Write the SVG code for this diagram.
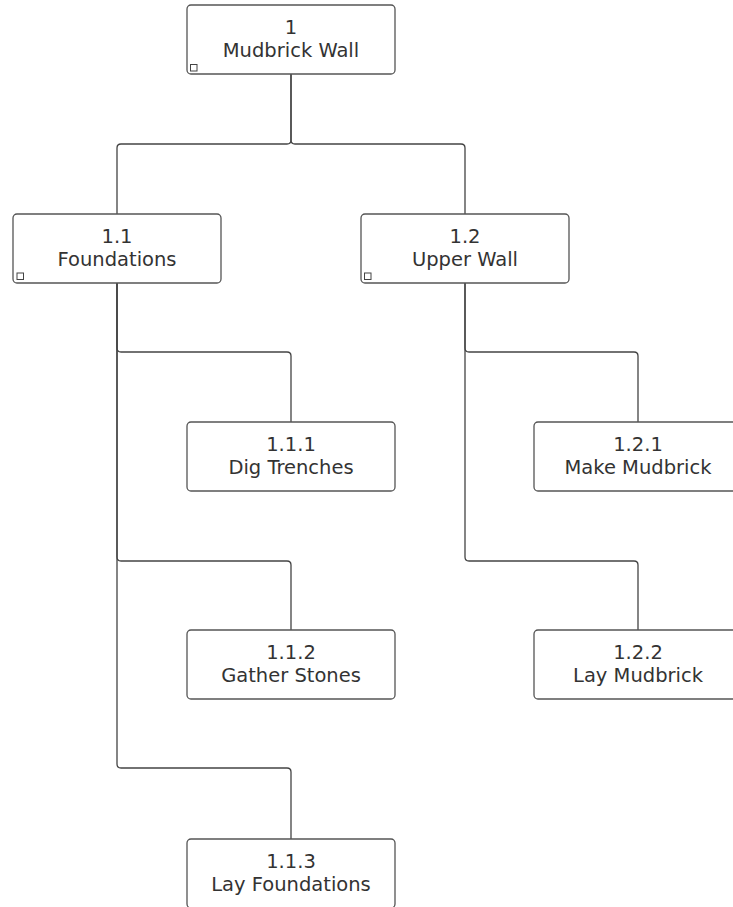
<svg xmlns="http://www.w3.org/2000/svg" width="733" height="907" viewBox="0 0 733 907">
<style>
.box{fill:#fff;stroke:#555;stroke-width:1.3}
.ico{fill:#fff;stroke:#444;stroke-width:1}
.lbl{font-family:"DejaVu Sans",Verdana,sans-serif;font-size:19.5px;fill:#333;text-anchor:middle}
.con{fill:none;stroke:#444;stroke-width:1.3}
</style>
<rect width="733" height="907" fill="#fff"/>
<g id="connectors">
<path class="con" d="M291,74 V140 Q291,144 287,144 H121 Q117,144 117,148 V214"/>
<path class="con" d="M291,74 V140 Q291,144 295,144 H461 Q465,144 465,148 V214"/>
<path class="con" d="M117,283 V348 Q117,352 121,352 H287 Q291,352 291,356 V422"/>
<path class="con" d="M117,283 V557 Q117,561 121,561 H287 Q291,561 291,565 V630"/>
<path class="con" d="M117,283 V764 Q117,768 121,768 H287 Q291,768 291,772 V839"/>
<path class="con" d="M465,283 V348 Q465,352 469,352 H634 Q638,352 638,356 V422"/>
<path class="con" d="M465,283 V557 Q465,561 469,561 H634 Q638,561 638,565 V630"/>
</g>
<g id="n1">
<rect class="box" x="187" y="5" width="208" height="69" rx="4"/>
<rect class="ico" x="190.5" y="64.5" width="6.5" height="6.5"/>
<text class="lbl" x="291" y="34">1</text>
<text class="lbl" x="291" y="57">Mudbrick Wall</text>
</g>
<g id="n1_1">
<rect class="box" x="13" y="214" width="208" height="69" rx="4"/>
<rect class="ico" x="17" y="273" width="6.5" height="6.5"/>
<text class="lbl" x="117" y="243">1.1</text>
<text class="lbl" x="117" y="266">Foundations</text>
</g>
<g id="n1_2">
<rect class="box" x="361" y="214" width="208" height="69" rx="4"/>
<rect class="ico" x="364.5" y="273" width="6.5" height="6.5"/>
<text class="lbl" x="465" y="243">1.2</text>
<text class="lbl" x="465" y="266">Upper Wall</text>
</g>
<g id="n1_1_1">
<rect class="box" x="187" y="422" width="208" height="69" rx="4"/>
<text class="lbl" x="291" y="451">1.1.1</text>
<text class="lbl" x="291" y="474">Dig Trenches</text>
</g>
<g id="n1_1_2">
<rect class="box" x="187" y="630" width="208" height="69" rx="4"/>
<text class="lbl" x="291" y="659">1.1.2</text>
<text class="lbl" x="291" y="682">Gather Stones</text>
</g>
<g id="n1_1_3">
<rect class="box" x="187" y="839" width="208" height="69" rx="4"/>
<text class="lbl" x="291" y="868">1.1.3</text>
<text class="lbl" x="291" y="891">Lay Foundations</text>
</g>
<g id="n1_2_1">
<rect class="box" x="534" y="422" width="208" height="69" rx="4"/>
<text class="lbl" x="638" y="451">1.2.1</text>
<text class="lbl" x="638" y="474">Make Mudbrick</text>
</g>
<g id="n1_2_2">
<rect class="box" x="534" y="630" width="208" height="69" rx="4"/>
<text class="lbl" x="638" y="659">1.2.2</text>
<text class="lbl" x="638" y="682">Lay Mudbrick</text>
</g>
</svg>
